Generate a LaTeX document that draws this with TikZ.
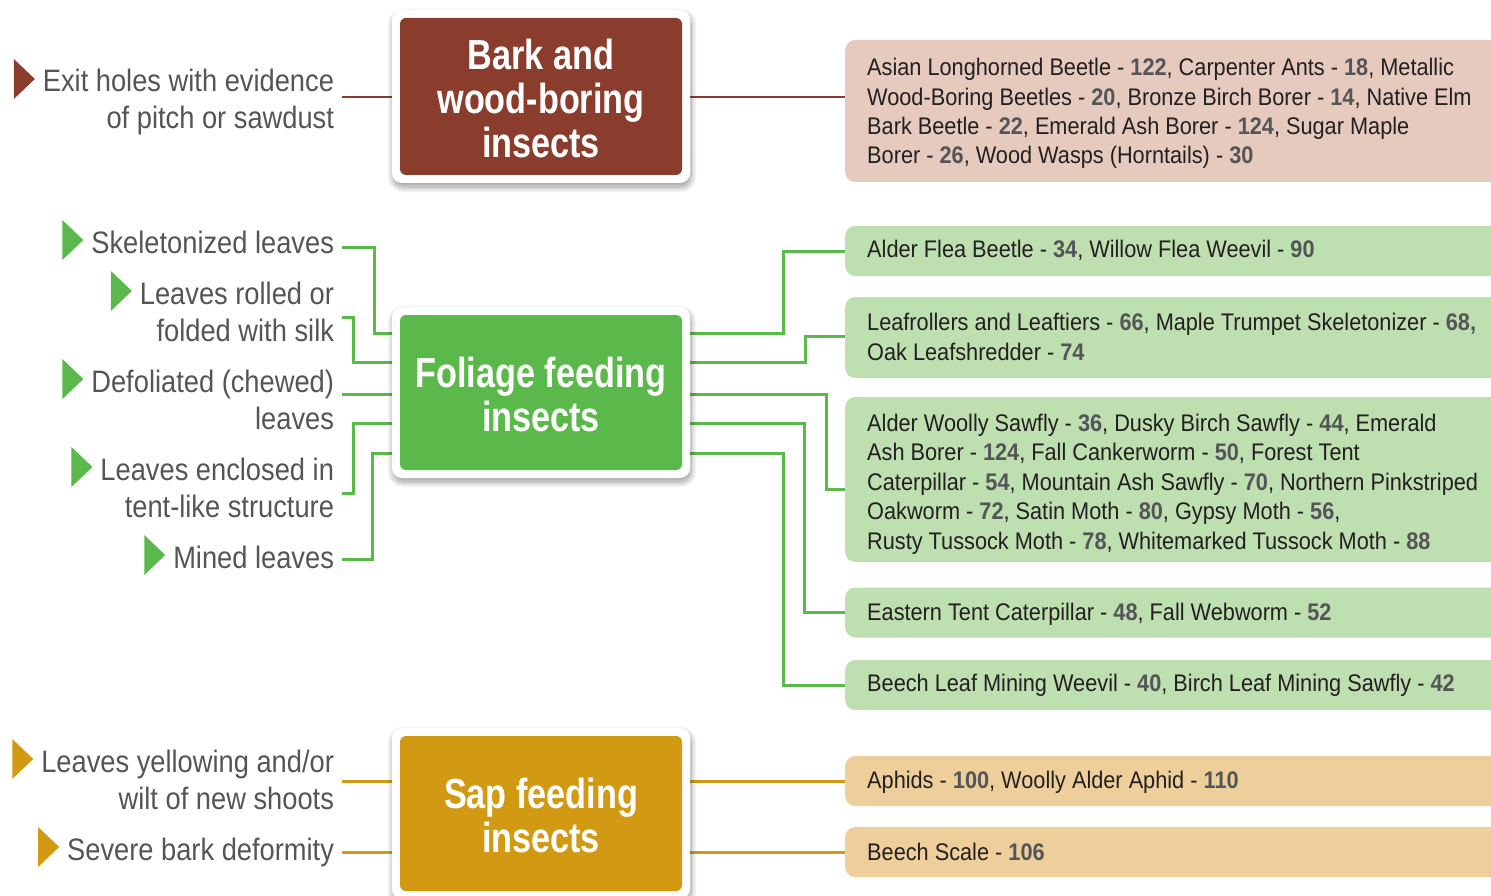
\documentclass[tikz,border=0pt]{standalone}
\usepackage{fontspec}
\setmainfont{Liberation Sans}
\newfontfamily\lblfont[FakeStretch=0.88]{Liberation Sans}
\newfontfamily\ttlfont[FakeStretch=0.815]{Liberation Sans}
\newfontfamily\rfont[FakeStretch=0.905]{Liberation Sans}
\usetikzlibrary{shadows.blur,backgrounds}
\definecolor{barkc}{HTML}{8B3D2D}
\definecolor{folc}{HTML}{5AB94A}
\definecolor{sapc}{HTML}{D29A13}
\definecolor{barkl}{HTML}{E5CABD}
\definecolor{foll}{HTML}{BEDFB0}
\definecolor{sapl}{HTML}{EECF9B}
\definecolor{labelgray}{HTML}{545557}
\definecolor{rtext}{HTML}{231F20}
\newcommand\nb[1]{{\bfseries\color{labelgray}#1}}
\newcommand\tri[1]{\smash{\raisebox{-7pt}{\tikz[x=1pt,y=1pt]\fill[#1] (0,0)--(0,40)--(21,20)--cycle;}}\hspace{8pt}}
\tikzset{
 lbl/.style={anchor=base east, align=right, inner sep=0pt, outer xsep=8pt, text=labelgray, font=\lblfont\fontsize{31}{37}\selectfont},
 outerbox/.style={fill=white, rounded corners=10pt, minimum width=298pt, minimum height=171pt, inner sep=0pt,
   blur shadow={shadow xshift=1pt, shadow yshift=-4pt, shadow blur radius=6pt, shadow opacity=40, shadow blur steps=12}},
 innerbox/.style={rounded corners=6pt, minimum width=282pt, minimum height=155pt, inner sep=0pt},
 ttl/.style={align=center, text=white, inner sep=0pt, font=\ttlfont\bfseries\fontsize{42}{44}\selectfont},
 rbox/.style={anchor=west, rounded corners=10pt, minimum width=700pt, inner sep=0pt},
 rtxt/.style={anchor=base west, align=left, inner sep=0pt, text=rtext, font=\rfont\fontsize{24}{29.4}\selectfont},
 bconn/.style={draw=barkc, line width=2.5pt},
 gconn/.style={draw=folc, line width=3pt},
 sconn/.style={draw=sapc, line width=3pt},
}
\begin{document}
\begin{tikzpicture}[x=1pt,y=-1pt]
\useasboundingbox (0,0) rectangle (1491,896);

% ---- title boxes
\node[outerbox, minimum height=173pt] (barkO) at (541,96.5) {};
\node[innerbox, fill=barkc, minimum height=157pt] (barkI) at (barkO.center) {};
\node[ttl] (barkT) at (541,98.8) {Bark and\\wood-boring\\insects};

\node[outerbox] (folO) at (541,392.5) {};
\node[innerbox, fill=folc] (folI) at (folO.center) {};
\node[ttl] (folT) at (541,394) {Foliage feeding\\insects};

\node[outerbox] (sapO) at (541,813.5) {};
\node[innerbox, fill=sapc] (sapI) at (sapO.center) {};
\node[ttl] (sapT) at (541,815) {Sap feeding\\insects};

% ---- left labels (base = last line baseline)
\node[lbl] (L1) at (342,129) {\tri{barkc}Exit holes with evidence\\of pitch or sawdust};
\node[lbl] (L2) at (342,253) {\tri{folc}Skeletonized leaves};
\node[lbl] (L3) at (342,341) {\tri{folc}Leaves rolled or\\folded with silk};
\node[lbl] (L4) at (342,429) {\tri{folc}Defoliated (chewed)\\leaves};
\node[lbl] (L5) at (342,517) {\tri{folc}Leaves enclosed in\\tent-like structure};
\node[lbl] (L6) at (342,568) {\tri{folc}Mined leaves};
\node[lbl] (L7) at (342,809) {\tri{sapc}Leaves yellowing and/or\\wilt of new shoots};
\node[lbl] (L8) at (342,860) {\tri{sapc}Severe bark deformity};

% ---- right boxes
\node[rbox, fill=barkl, minimum height=142pt] (R1) at (845,111) {};
\node[rtxt] (T1) at (867,164) {Asian Longhorned Beetle - \nb{122}, Carpenter Ants - \nb{18}, Metallic\\Wood-Boring Beetles - \nb{20}, Bronze Birch Borer - \nb{14}, Native Elm\\Bark Beetle - \nb{22}, Emerald Ash Borer - \nb{124}, Sugar Maple\\Borer - \nb{26}, Wood Wasps (Horntails) - \nb{30}};
\node[rbox, fill=foll, minimum height=50pt] (R2) at (845,251) {};
\node[rtxt] (T2) at (867,258) {Alder Flea Beetle - \nb{34}, Willow Flea Weevil - \nb{90}};
\node[rbox, fill=foll, minimum height=81pt] (R3) at (845,337.5) {};
\node[rtxt] (T3) at (867,360) {Leafrollers and Leaftiers - \nb{66}, Maple Trumpet Skeletonizer - \nb{68,}\\Oak Leafshredder - \nb{74}};
\node[rbox, fill=foll, minimum height=165pt] (R4) at (845,479.5) {};
\node[rtxt] (T4) at (867,549) {Alder Woolly Sawfly - \nb{36}, Dusky Birch Sawfly - \nb{44}, Emerald\\Ash Borer - \nb{124}, Fall Cankerworm - \nb{50}, Forest Tent\\Caterpillar - \nb{54}, Mountain Ash Sawfly - \nb{70}, Northern Pinkstriped\\Oakworm - \nb{72}, Satin Moth - \nb{80}, Gypsy Moth - \nb{56},\\Rusty Tussock Moth - \nb{78}, Whitemarked Tussock Moth - \nb{88}};
\node[rbox, fill=foll, minimum height=50pt] (R5) at (845,612.5) {};
\node[rtxt] (T5) at (867,620) {Eastern Tent Caterpillar - \nb{48}, Fall Webworm - \nb{52}};
\node[rbox, fill=foll, minimum height=50pt] (R6) at (845,685) {};
\node[rtxt] (T6) at (867,691) {Beech Leaf Mining Weevil - \nb{40}, Birch Leaf Mining Sawfly - \nb{42}};
\node[rbox, fill=sapl, minimum height=50pt] (R7) at (845,781) {};
\node[rtxt] (T7) at (867,788) {Aphids - \nb{100}, Woolly Alder Aphid - \nb{110}};
\node[rbox, fill=sapl, minimum height=50pt] (R8) at (845,852) {};
\node[rtxt] (T8) at (867,860) {Beech Scale - \nb{106}};

% ---- connectors
\begin{pgfonlayer}{background}
\draw[bconn] (L1.east |- 0,97) -- (barkO.west |- 0,97);
\draw[bconn] (barkO.east |- 0,97) -- (R1.west |- 0,97);

\draw[gconn] (L2.east |- 0,247) -- (374,247) -- (374,333) -- (folO.west |- 0,333);
\draw[gconn] (L3.east |- 0,317) -- (353,317) -- (353,362) -- (folO.west |- 0,362);
\draw[gconn] (L4.east |- 0,394) -- (folO.west |- 0,394);
\draw[gconn] (L5.east |- 0,493) -- (353,493) -- (353,423) -- (folO.west |- 0,423);
\draw[gconn] (L6.east |- 0,559) -- (372,559) -- (372,453) -- (folO.west |- 0,453);

\draw[gconn] (folO.east |- 0,333) -- (783,333) -- (783,251) -- (R2.west |- 0,251);
\draw[gconn] (folO.east |- 0,362) -- (805,362) -- (805,336) -- (R3.west |- 0,336);
\draw[gconn] (folO.east |- 0,394) -- (826,394) -- (826,489) -- (R4.west |- 0,489);
\draw[gconn] (folO.east |- 0,423) -- (804,423) -- (804,612) -- (R5.west |- 0,612);
\draw[gconn] (folO.east |- 0,453) -- (783,453) -- (783,685) -- (R6.west |- 0,685);

\draw[sconn] (L7.east |- 0,781) -- (sapO.west |- 0,781);
\draw[sconn] (L8.east |- 0,852) -- (sapO.west |- 0,852);
\draw[sconn] (sapO.east |- 0,781) -- (R7.west |- 0,781);
\draw[sconn] (sapO.east |- 0,852) -- (R8.west |- 0,852);
\end{pgfonlayer}
\end{tikzpicture}
\end{document}
